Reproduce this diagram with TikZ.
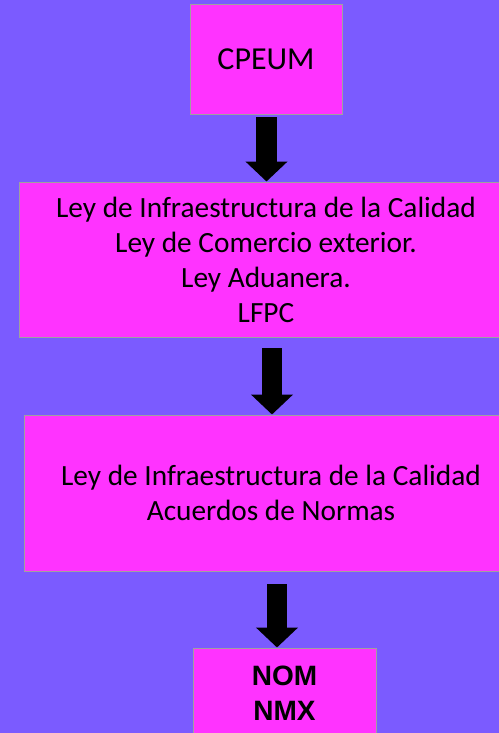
\documentclass[tikz,border=0pt]{standalone}
\usepackage{fontspec}
\setmainfont{Carlito}
\newfontfamily\arialb{Liberation Sans}
\usetikzlibrary{arrows.meta}

\definecolor{fondo}{RGB}{123,91,255}
\definecolor{rosa}{RGB}{255,51,255}
\definecolor{borde}{RGB}{160,160,160}

\begin{document}
\begin{tikzpicture}[x=0.75pt,y=-0.75pt,
    caja/.style={draw=borde, fill=rosa, line width=0.75pt, inner sep=0pt, align=center,
                 font=\fontsize{22}{26.25}\selectfont},
    flecha/.style={line width=15.4pt, -{Triangle[width=30.75pt,length=15pt]}}]

\useasboundingbox (0,0) rectangle (499,733);
\fill[fondo] (0,0) rectangle (499,733);

\node[caja, minimum width=114pt, minimum height=82.5pt, font=\fontsize{24}{28}\selectfont] (cpeum) at (266,59) {CPEUM};

\node[caja, minimum width=370.5pt, minimum height=116.25pt] (leyes) at (266,259.5)
    {Ley de Infraestructura de la Calidad\\Ley de Comercio exterior.\\Ley Aduanera.\\LFPC};

\node[caja, minimum width=370.5pt, minimum height=117pt] (acuerdos) at (271,493)
    {Ley de Infraestructura de la Calidad\\Acuerdos de Normas};

\node[caja, minimum width=137.25pt, minimum height=68.25pt, font=\arialb\bfseries\fontsize{21}{26.25}\selectfont] (nom) at (284.5,693.5)
    {NOM\\NMX};

\coordinate (f1) at (266.5,117);
\coordinate (f2) at (272,348);
\coordinate (f3) at (277,584);

\draw[flecha] (f1) -- (f1 |- leyes.north);
\draw[flecha] (f2) -- (f2 |- acuerdos.north);
\draw[flecha] (f3) -- (f3 |- nom.north);

\end{tikzpicture}
\end{document}
